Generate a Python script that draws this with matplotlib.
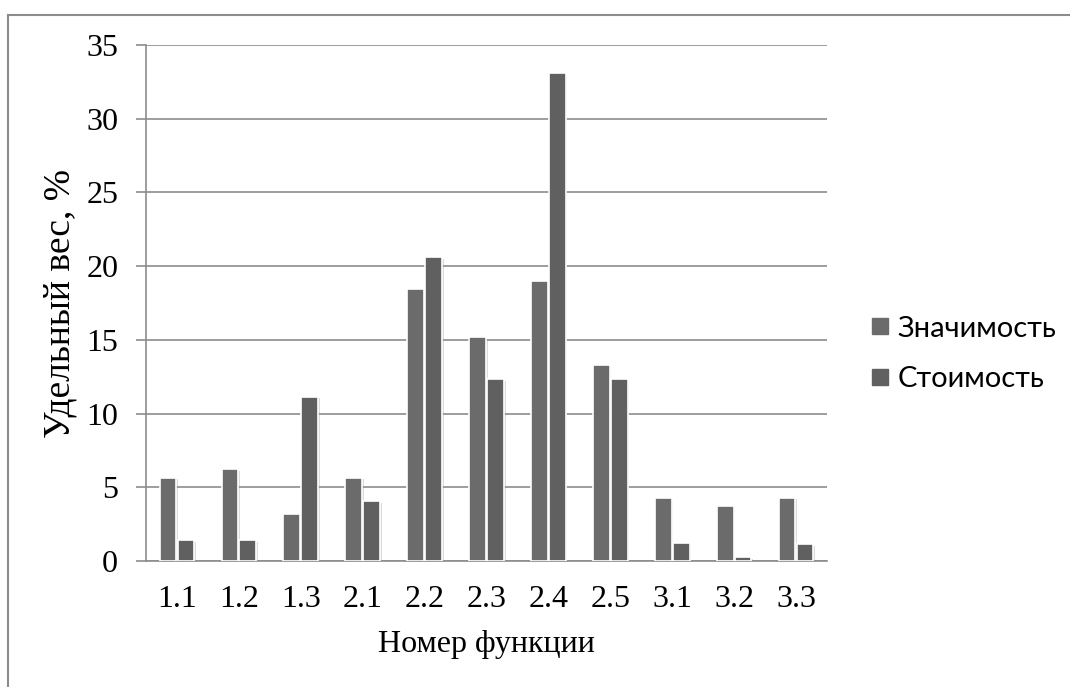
import numpy as np
import matplotlib
matplotlib.use("Agg")
import matplotlib.pyplot as plt
import matplotlib.patheffects as pe
from matplotlib.lines import Line2D

# данные
functions = ['1.1', '1.2', '1.3', '2.1', '2.2', '2.3', '2.4', '2.5', '3.1', '3.2', '3.3']
significance = [5.65, 6.25, 3.2, 5.65, 18.45, 15.2, 19.0, 13.3, 4.3, 3.75, 4.3]
cost = [1.4, 1.4, 11.15, 4.05, 20.6, 12.35, 33.1, 12.35, 1.2, 0.25, 1.15]

series_names = ['Значимость', 'Стоимость']
colors = ['#6b6b6b', '#606060']
grid_color = '#8c8c8c'

fig = plt.figure(figsize=(10.7, 6.87), dpi=100)
ax = fig.add_axes([146 / 1070, 1 - 561 / 687, (827 - 146) / 1070, (561 - 45) / 687])

x = np.arange(len(functions))
w = 0.27
shadow = [pe.SimplePatchShadow(offset=(1.2, -1.2), shadow_rgbFace='#999999', alpha=0.35), pe.Normal()]
for vals, off, col, name in [(significance, -w / 2 - 0.01, colors[0], series_names[0]),
                             (cost, w / 2 + 0.01, colors[1], series_names[1])]:
    bars = ax.bar(x + off, vals, width=w, color=col, edgecolor='white', linewidth=1.2,
                  label=name, zorder=3)
    for b in bars:
        b.set_path_effects(shadow)

ax.set_xlim(-0.5, len(functions) - 0.5)
ax.set_ylim(0, 35)
ax.set_yticks(range(0, 36, 5))
ax.set_xticks(x)
ax.set_xticklabels(functions)

ax.yaxis.grid(True, color=grid_color, linewidth=1.2, zorder=0)
ax.set_axisbelow(True)
for s in ['top', 'right']:
    ax.spines[s].set_visible(False)
for s in ['left', 'bottom']:
    ax.spines[s].set_color(grid_color)
    ax.spines[s].set_linewidth(1.2)

serif = ['Liberation Serif', 'DejaVu Serif']
ax.tick_params(axis='y', length=7, width=1.2, color=grid_color, pad=13)
ax.tick_params(axis='x', length=0, pad=17)
for lab in ax.get_xticklabels() + ax.get_yticklabels():
    lab.set_family(serif)
    lab.set_fontsize(23)

ax.set_ylabel('Удельный вес, %', family=serif, fontsize=27, labelpad=6)
ax.set_xlabel('Номер функции', family=serif, fontsize=23, labelpad=12)

# легенда справа
handles = [Line2D([], [], linestyle='none', marker='s', markersize=11,
                  markerfacecolor=c, markeredgecolor=c) for c in colors]
leg = fig.legend(handles, series_names, loc='center left', bbox_to_anchor=(845 / 1070, 1 - 354 / 687),
                 frameon=False, handlelength=0.6, handletextpad=0.3, labelspacing=0.85,
                 prop={'family': ['Lato', 'DejaVu Sans'], 'size': 21})

# рамка области диаграммы
fig.add_artist(Line2D([8 / 1070, 1.0], [1 - 15 / 687, 1 - 15 / 687], color='#8c8c8c', linewidth=1.5))
fig.add_artist(Line2D([8 / 1070, 8 / 1070], [0.0, 1 - 15 / 687], color='#8c8c8c', linewidth=1.5))

fig.savefig('out.png', dpi=100, facecolor='white')
